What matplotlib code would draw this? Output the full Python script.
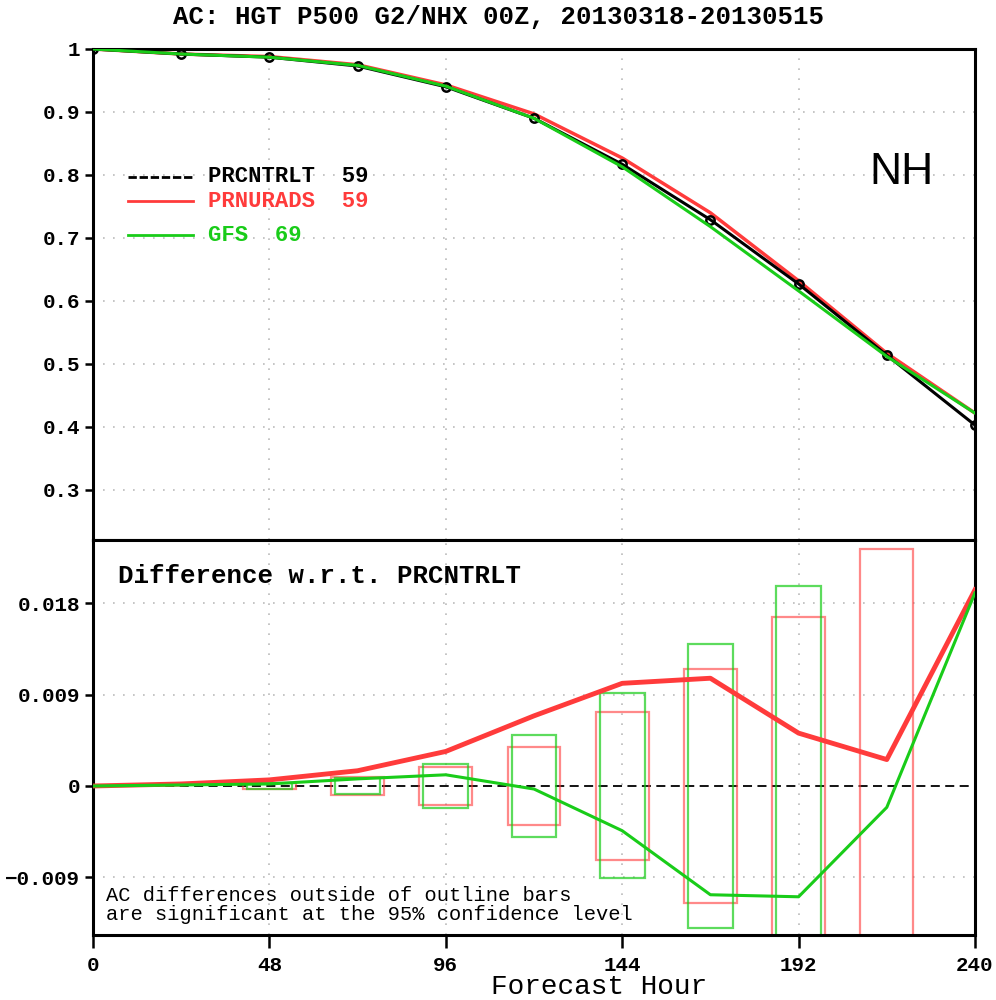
import matplotlib
matplotlib.use("Agg")
import matplotlib.pyplot as plt
import numpy as np

# ---- data ----
hours = [0, 24, 48, 72, 96, 120, 144, 168, 192, 216, 240]

ac_prcntrlt = [1.0, 0.992, 0.987, 0.973, 0.940, 0.890, 0.817, 0.729, 0.627, 0.514, 0.403]
ac_prnurads = [1.0, 0.992, 0.988, 0.975, 0.943, 0.897, 0.827, 0.740, 0.632, 0.517, 0.422]
ac_gfs      = [1.0, 0.992, 0.987, 0.974, 0.941, 0.890, 0.813, 0.718, 0.616, 0.512, 0.422]

diff_prnurads = [0.0, 0.0002, 0.0006, 0.0015, 0.0034, 0.0069, 0.0101, 0.0106, 0.0052, 0.0026, 0.0193]
diff_gfs      = [0.0, 0.0001, 0.0002, 0.0007, 0.0011, -0.0003, -0.0044, -0.0107, -0.0109, -0.0021, 0.0190]

# half height of the 95% confidence outline bars
bar_hours   = [48, 72, 96, 120, 144, 168, 192, 216]
ci_prnurads = [0.0003, 0.0009, 0.0019, 0.0038, 0.0073, 0.0115, 0.0166, 0.0233]
ci_gfs      = [0.0003, 0.0008, 0.0022, 0.0050, 0.0091, 0.0140, 0.0197, np.nan]

legend_names = ["PRCNTRLT  59", "PRNURADS  59", "GFS  69"]

RED = "#ff3b3b"
GREEN = "#19cc19"
MONO = "Liberation Mono"

fig = plt.figure(figsize=(9.96, 10), dpi=100)
ax1 = fig.add_axes([0.0934, 0.460, 0.8855, 0.491])
ax2 = fig.add_axes([0.0934, 0.065, 0.8855, 0.395])

for ax in (ax1, ax2):
    for s in ax.spines.values():
        s.set_linewidth(2.2)
    ax.set_xlim(0, 240)
    ax.set_xticks([0, 48, 96, 144, 192, 240])
    ax.tick_params(direction="out", width=1.8, length=6)
    for x in [48, 96, 144, 192]:
        ax.axvline(x, color="#bbbbbb", lw=1.2, ls=(0, (1, 5)), zorder=0)

# ---- top panel ----
ax1.set_ylim(0.2206, 1.0)
ax1.set_yticks([0.3, 0.4, 0.5, 0.6, 0.7, 0.8, 0.9, 1.0])
ax1.set_yticklabels(["0.3", "0.4", "0.5", "0.6", "0.7", "0.8", "0.9", "1"])
ax1.tick_params(axis="x", bottom=False, labelbottom=False)
for y in [0.3, 0.4, 0.5, 0.6, 0.7, 0.8, 0.9]:
    ax1.axhline(y, color="#bbbbbb", lw=1.2, ls=(0, (1, 5)), zorder=0)

ax1.plot(hours, ac_prcntrlt, color="black", lw=2.2, marker="o", ms=6,
         mfc="none", mew=1.8, zorder=3)
ax1.plot(hours, ac_prnurads, color=RED, lw=2.5, zorder=2)
ax1.plot(hours, ac_gfs, color=GREEN, lw=2.2, zorder=4)

# hand-made legend like GrADS
leg_y = [0.740, 0.690, 0.621]
leg_c = ["black", RED, GREEN]
for name, y, c in zip(legend_names, leg_y, leg_c):
    ax1.plot([0.040, 0.113], [y, y], transform=ax1.transAxes, color=c, lw=2,
             ls=(0, (3, 1)) if c == "black" else "-")
    ax1.text(0.130, y, name, transform=ax1.transAxes, color=c, fontsize=16,
             fontweight="bold", family=MONO, va="center", ha="left")

ax1.text(0.917, 0.749, "NH", transform=ax1.transAxes, fontsize=32,
         family="Liberation Sans", ha="center", va="center")

# ---- difference panel ----
ax2.set_ylim(-0.01466, 0.0242)
ax2.set_yticks([-0.009, 0, 0.009, 0.018])
ax2.set_yticklabels(["\u22120.009", "0", "0.009", "0.018"])
ax2.tick_params(axis="x", length=9, pad=6)
for y in [-0.009, 0.009, 0.018]:
    ax2.axhline(y, color="#bbbbbb", lw=1.2, ls=(0, (1, 5)), zorder=0)
ax2.axhline(0, color="black", lw=1.3, ls=(0, (5, 3)), zorder=1)

ci_r = np.array(ci_prnurads)
ci_g = np.array(ci_gfs)
ax2.bar(bar_hours, 2 * ci_r, bottom=-ci_r, width=14.4, fill=False,
        edgecolor=RED, alpha=0.6, lw=1.6, zorder=2)
ax2.bar(bar_hours, 2 * ci_g, bottom=-ci_g, width=12.2, fill=False,
        edgecolor=GREEN, alpha=0.7, lw=1.6, zorder=2)

ax2.plot(hours, diff_prnurads, color=RED, lw=3.5, zorder=3)
ax2.plot(hours, diff_gfs, color=GREEN, lw=2.2, zorder=4)

ax2.text(0.028, 0.909, "Difference w.r.t. PRCNTRLT", transform=ax2.transAxes,
         fontsize=18.5, fontweight="bold", family=MONO, va="center")
ax2.text(0.015, 0.101, "AC differences outside of outline bars",
         transform=ax2.transAxes, fontsize=14.7, family=MONO, va="center")
ax2.text(0.015, 0.051, "are significant at the 95% confidence level",
         transform=ax2.transAxes, fontsize=14.7, family=MONO, va="center")

for ax in (ax1, ax2):
    for lab in ax.get_yticklabels() + ax.get_xticklabels():
        lab.set_family(MONO)
        lab.set_fontweight("bold")
        lab.set_fontsize(15)

fig.text(0.501, 0.983, "AC: HGT P500 G2/NHX 00Z, 20130318-20130515",
         fontsize=18.5, fontweight="bold", family=MONO, ha="center", va="center")
fig.text(0.601, 0.013, "Forecast Hour", fontsize=20, family=MONO,
         ha="center", va="center")

fig.savefig("out.png", dpi=100)
